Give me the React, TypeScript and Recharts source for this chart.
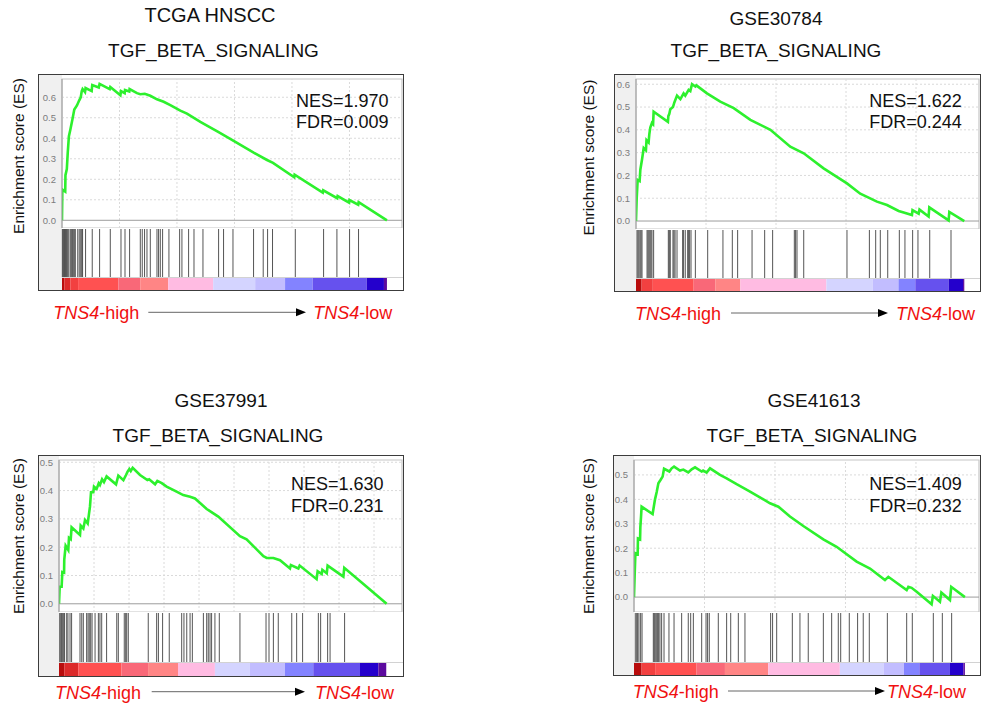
import React from 'react';
import { ComposedChart, Line, XAxis, YAxis, ReferenceLine, ReferenceArea } from 'recharts';

// ranks are in thousands of genes along the ranked list
const tcgaEs: [number, number][] = [
  [0, 0], [0.03, 0.15], [0.28, 0.14], [0.3, 0.22], [0.42, 0.25], [0.5, 0.33], [0.6, 0.41], [0.72, 0.44],
  [0.9, 0.49], [1.07, 0.54], [1.3, 0.56], [1.5, 0.585], [1.63, 0.6], [1.72, 0.63], [1.79, 0.64], [2.0, 0.625],
  [2.05, 0.645], [2.58, 0.63], [2.63, 0.66], [3.2, 0.648], [3.27, 0.665], [4.15, 0.64], [4.2, 0.65], [5.08, 0.61],
  [5.13, 0.63], [5.45, 0.62], [5.48, 0.635], [5.85, 0.628], [5.88, 0.64], [6.52, 0.62], [6.81, 0.615], [7.2, 0.617],
  [7.68, 0.607], [8.26, 0.59], [8.84, 0.578], [9.42, 0.562], [10.29, 0.535], [10.87, 0.52], [12.03, 0.48],
  [13.62, 0.43], [14.93, 0.387], [16.67, 0.33], [17.83, 0.294], [18.35, 0.28], [20.2, 0.21], [20.23, 0.222],
  [22.68, 0.135], [22.72, 0.146], [23.93, 0.108], [23.97, 0.118], [24.97, 0.086], [25.0, 0.099], [25.76, 0.076],
  [25.8, 0.089], [28.26, 0],
];
const tcgaHits = [
  0.03, 0.1, 0.16, 0.23, 0.29, 0.36, 0.42, 0.5, 0.59, 0.72, 0.81, 0.9, 0.98, 1.07, 1.16, 1.37, 1.5, 1.63, 1.72,
  1.79, 2.05, 2.63, 3.27, 4.2, 5.13, 5.48, 5.88, 6.81, 6.98, 7.18, 7.39, 7.68, 8.26, 8.4, 8.55, 8.75, 9.3, 10.23,
  10.43, 11.01, 11.48, 12.26, 13.62, 14.05, 14.87, 16.66, 17.5, 17.88, 18.31, 20.29, 22.75, 23.91, 25.01, 25.79,
];
// [from rank, to rank, heat level]
const tcgaBands: [number, number, number][] = [
  [0, 0.2, 0], [0.2, 0.72, 1], [0.72, 1.4, 2], [1.4, 4.9, 3], [4.9, 6.8, 4], [6.8, 9.24, 5], [9.24, 13.15, 6],
  [13.15, 16.8, 7], [16.8, 19.4, 8], [19.4, 21.8, 9], [21.8, 26.5, 10], [26.5, 28.0, 11], [28.0, 28.26, 12],
];

const gse30784Es: [number, number][] = [
  [0, 0], [0.05, 0.1], [0.12, 0.18], [0.26, 0.175], [0.31, 0.225], [0.43, 0.27], [0.55, 0.32], [0.71, 0.31],
  [0.75, 0.355], [0.9, 0.345], [0.95, 0.38], [1.02, 0.41], [1.14, 0.43], [1.22, 0.425], [1.26, 0.48], [2.28, 0.435],
  [2.31, 0.46], [2.38, 0.47], [2.45, 0.49], [2.64, 0.5], [2.74, 0.52], [2.93, 0.55], [3.17, 0.535], [3.4, 0.56],
  [3.52, 0.55], [3.76, 0.575], [3.88, 0.57], [4.0, 0.6], [4.24, 0.59], [4.31, 0.595], [5.07, 0.56], [6.02, 0.524],
  [6.98, 0.495], [8.17, 0.444], [9.6, 0.4], [11.02, 0.326], [11.98, 0.297], [13.4, 0.231], [15.07, 0.165],
  [16.02, 0.12], [17.21, 0.085], [17.93, 0.07], [18.76, 0.044], [19.12, 0.037], [19.71, 0.026], [19.75, 0.048],
  [20.19, 0.032], [20.25, 0.05], [20.9, 0.02], [20.95, 0.06], [22.33, 0.003], [22.38, 0.04], [23.45, 0],
];
const gse30784Hits = [
  0.07, 0.14, 0.21, 0.29, 0.36, 0.43, 0.79, 0.86, 0.93, 1.0, 1.07, 1.14, 1.26, 2.31, 2.38, 2.45, 2.64, 2.71, 2.79,
  2.93, 3.33, 3.4, 3.52, 3.69, 3.76, 3.83, 3.93, 4.24, 5.12, 6.21, 6.88, 7.26, 8.29, 9.19, 9.76, 11.31, 11.4, 11.5,
  11.98, 15.07, 16.67, 17.12, 17.45, 17.98, 18.81, 19.21, 19.76, 20.14, 20.98, 22.5,
];
const gse30784Bands: [number, number, number][] = [
  [0, 0.4, 0], [0.4, 1.2, 2], [1.2, 4.12, 3], [4.12, 5.66, 4], [5.66, 7.45, 5], [7.45, 13.6, 6], [13.6, 16.9, 7],
  [16.9, 18.75, 8], [18.75, 19.95, 9], [19.95, 22.33, 10], [22.33, 23.36, 11], [23.36, 23.45, 12],
];

const gse37991Es: [number, number][] = [
  [0, 0], [0.04, 0.06], [0.15, 0.06], [0.19, 0.112], [0.29, 0.11], [0.3, 0.155], [0.38, 0.205], [0.53, 0.19],
  [0.57, 0.233], [0.67, 0.228], [0.72, 0.27], [1.2, 0.243], [1.24, 0.276], [1.39, 0.266], [1.49, 0.296],
  [1.64, 0.284], [1.71, 0.316], [1.77, 0.343], [1.83, 0.394], [1.96, 0.394], [2.0, 0.414], [2.15, 0.406],
  [2.27, 0.426], [2.34, 0.42], [2.46, 0.44], [2.57, 0.43], [2.72, 0.45], [3.26, 0.422], [3.39, 0.453], [3.68, 0.437],
  [3.83, 0.455], [3.92, 0.467], [4.02, 0.476], [4.1, 0.469], [4.21, 0.48], [4.63, 0.455], [5.05, 0.437], [5.15, 0.44],
  [5.49, 0.422], [5.62, 0.434], [5.87, 0.426], [6.15, 0.414], [6.72, 0.396], [7.1, 0.384], [7.49, 0.378],
  [7.77, 0.372], [8.44, 0.335], [9.1, 0.308], [10.34, 0.239], [10.72, 0.228], [11.68, 0.168], [11.87, 0.162],
  [12.25, 0.162], [12.63, 0.154], [13.2, 0.125], [13.25, 0.137], [13.68, 0.125], [13.75, 0.135], [14.72, 0.087],
  [14.78, 0.115], [15.01, 0.105], [15.05, 0.12], [15.3, 0.108], [15.35, 0.135], [16.25, 0.096], [16.3, 0.127],
  [17.58, 0.06], [18.72, 0],
];
const gse37991Hits = [
  0.04, 0.1, 0.15, 0.21, 0.27, 0.32, 0.44, 0.51, 0.63, 0.72, 1.2, 1.3, 1.39, 1.58, 1.66, 1.73, 1.81, 1.89, 2.06,
  2.25, 2.34, 2.44, 2.72, 3.3, 3.39, 3.73, 3.81, 3.87, 3.96, 5.1, 5.58, 5.68, 5.92, 6.3, 7.01, 7.14, 7.3, 7.49, 7.62,
  8.25, 8.44, 8.53, 8.63, 8.72, 8.91, 9.16, 10.34, 11.83, 12.0, 12.25, 12.53, 13.3, 13.58, 13.92, 14.82, 14.95,
  15.35, 15.49, 16.32,
];
const gse37991Bands: [number, number, number][] = [
  [0, 0.3, 0], [0.3, 1.1, 1], [1.1, 3.57, 3], [3.57, 5.09, 4], [5.09, 6.8, 5], [6.8, 8.91, 6], [8.91, 10.91, 7],
  [10.91, 12.91, 8], [12.91, 14.53, 9], [14.53, 17.2, 10], [17.2, 18.25, 11], [18.25, 18.7, 12],
];

const gse41613Es: [number, number][] = [
  [0, 0], [0.05, 0.097], [0.1, 0.18], [0.26, 0.176], [0.28, 0.24], [0.43, 0.236], [0.45, 0.286], [0.5, 0.33],
  [0.54, 0.37], [1.32, 0.34], [1.49, 0.4], [1.61, 0.43], [1.73, 0.466], [1.89, 0.48], [2.03, 0.493], [2.13, 0.525],
  [2.51, 0.514], [2.67, 0.527], [2.84, 0.534], [3.26, 0.518], [3.5, 0.522], [3.85, 0.51], [4.09, 0.523],
  [4.33, 0.531], [4.8, 0.514], [4.9, 0.518], [5.15, 0.51], [5.39, 0.527], [6.1, 0.5], [6.57, 0.486], [7.28, 0.462],
  [8.23, 0.432], [9.65, 0.384], [10.24, 0.37], [11.06, 0.33], [12.01, 0.291], [13.43, 0.236], [14.37, 0.206],
  [15.79, 0.145], [16.74, 0.117], [17.8, 0.07], [18.04, 0.083], [19.34, 0.029], [19.46, 0.042], [19.69, 0.038],
  [20.05, 0.022], [21.11, -0.029], [21.2, 0.005], [21.7, -0.019], [21.8, 0.019], [22.41, -0.012], [22.5, 0.042],
  [23.47, 0],
];
const gse41613Hits = [
  0.09, 0.19, 0.26, 0.35, 0.47, 0.57, 1.37, 1.44, 1.51, 1.61, 1.68, 1.75, 1.84, 1.96, 2.13, 2.48, 2.84, 3.38, 3.85,
  4.02, 4.21, 4.8, 5.11, 5.22, 5.34, 5.98, 6.57, 6.86, 7.4, 7.87, 9.69, 9.83, 10.12, 11.23, 11.77, 12.36, 13.43,
  14.02, 14.49, 14.66, 15.27, 15.86, 16.26, 16.69, 17.97, 19.34, 19.74, 21.23, 21.87, 22.53,
];
const gse41613Bands: [number, number, number][] = [
  [0, 0.54, 0], [0.54, 1.5, 2], [1.5, 4.44, 3], [4.44, 6.45, 4], [6.45, 9.52, 5], [9.52, 14.6, 6], [14.6, 17.7, 7],
  [17.7, 19.15, 8], [19.15, 20.24, 9], [20.24, 22.41, 10], [22.41, 23.36, 11], [23.36, 23.47, 12],
];

const ticksTo06 = [0, 0.1, 0.2, 0.3, 0.4, 0.5, 0.6];
const ticksTo05 = [0, 0.1, 0.2, 0.3, 0.4, 0.5];

const panels = [
  { dataset: 'TCGA HNSCC', geneSet: 'TGF_BETA_SIGNALING', nes: '1.970', fdr: '0.009', es: tcgaEs, hits: tcgaHits, bands: tcgaBands, yTicks: ticksTo06, xGrid: [5, 10, 15, 20, 25] },
  { dataset: 'GSE30784', geneSet: 'TGF_BETA_SIGNALING', nes: '1.622', fdr: '0.244', es: gse30784Es, hits: gse30784Hits, bands: gse30784Bands, yTicks: ticksTo06, xGrid: [5, 10, 15, 20] },
  { dataset: 'GSE37991', geneSet: 'TGF_BETA_SIGNALING', nes: '1.630', fdr: '0.231', es: gse37991Es, hits: gse37991Hits, bands: gse37991Bands, yTicks: ticksTo05, xGrid: [2, 4, 6, 8, 10, 12, 14, 16, 18] },
  { dataset: 'GSE41613', geneSet: 'TGF_BETA_SIGNALING', nes: '1.409', fdr: '0.232', es: gse41613Es, hits: gse41613Hits, bands: gse41613Bands, yTicks: ticksTo05, xGrid: [5, 10, 15, 20] },
];

// dark red -> pink -> lavender -> dark blue
const heatColors = [
  '#b80c0c', '#dc2a2a', '#f24040', '#ff5151', '#f96878', '#ff8585', '#ffbbe2',
  '#d4d4ff', '#c2bdff', '#8383ff', '#6651ee', '#2400cc', '#5c0a9e',
];

const layouts = [
  { left: 38, top: 74, w: 364, band: 23, esH: 153, hitH: 49, barH: 13, xMax: 29.57, yDomain: [-0.0376, 0.689],
    t1: [210, 21.5], t2: [213.5, 56.7], yl: [18.5, 156], nes: [296, 106.7], hi: 53.3, ax: [148.3, 306], lo: 313.3, ay: 312.3 },
  { left: 614, top: 74, w: 365, band: 21, esH: 154, hitH: 49, barH: 13, xMax: 24.5, yDomain: [-0.035, 0.623],
    t1: [776, 25], t2: [776, 57], yl: [589, 157.5], nes: [869.3, 106.7], hi: 635, ax: [731, 888], lo: 896, ay: 313 },
  { left: 38, top: 455, w: 364, band: 20, esH: 156, hitH: 50, barH: 14, xMax: 19.6, yDomain: [-0.029, 0.508],
    t1: [221, 407], t2: [218, 442], yl: [18.5, 536], nes: [291, 490], hi: 55, ax: [151.7, 305], lo: 315, ay: 691.7 },
  { left: 613, top: 455, w: 366, band: 20, esH: 156, hitH: 50, barH: 13, xMax: 24.47, yDomain: [-0.061, 0.561],
    t1: [814, 407], t2: [812, 442], yl: [588.5, 536], nes: [869.3, 490], hi: 632.7, ax: [728, 885], lo: 887, ay: 691 },
];

const FONT = '"Liberation Sans", Arial, Helvetica, sans-serif';

function GseaPanel({ p, b }: { p: (typeof panels)[number]; b: (typeof layouts)[number] }) {
  const esData = p.es.map(([rank, es]) => ({ rank, es }));
  const hitData = p.hits.map((rank) => ({ rank, v: 0.5 }));
  const [yMin, yMax] = b.yDomain;
  return (
    <div
      style={{
        position: 'absolute', left: b.left, top: b.top, width: b.w, border: '1px solid #3c3c3c',
        background: `linear-gradient(to right, #f0f0f0 ${b.band}px, #ffffff ${b.band}px)`,
      }}
    >
      <ComposedChart width={b.w} height={b.esH} data={esData} margin={{ top: 4, right: 1, bottom: 0, left: 0 }}>
        <XAxis type="number" dataKey="rank" domain={[0, b.xMax]} allowDataOverflow hide />
        <YAxis
          type="number" domain={[yMin, yMax]} allowDataOverflow ticks={p.yTicks} width={b.band}
          axisLine={{ stroke: '#a0a0a0' }} tickLine={false} tickSize={3} tickMargin={3} interval={0}
          tick={{ fill: '#7c7c7c', fontSize: 9.5, fontFamily: FONT }} tickFormatter={(v: number) => v.toFixed(1)}
        />
        {p.xGrid.map((x) => (
          <ReferenceLine key={`gx${x}`} x={x} stroke="#dadada" strokeDasharray="2 2" />
        ))}
        {p.yTicks.filter((t) => t > 0).map((t) => (
          <ReferenceLine key={`gy${t}`} y={t} stroke="#dadada" strokeDasharray="2 2" />
        ))}
        <ReferenceArea x1={0} x2={b.xMax} y1={yMin} y2={yMax} fill="none" stroke="#c6c6c6" strokeWidth={1.2} />
        <ReferenceLine y={0} stroke="#9c9c9c" />
        <Line dataKey="es" type="linear" stroke="#2df02d" strokeWidth={2.6} dot={false} isAnimationActive={false} />
      </ComposedChart>
      <ComposedChart width={b.w} height={b.hitH} data={hitData} margin={{ top: 1, right: 1, bottom: 0, left: b.band }}>
        <XAxis type="number" dataKey="rank" domain={[0, b.xMax]} allowDataOverflow hide />
        <YAxis type="number" domain={[0, 1]} hide />
        {p.hits.map((h, i) => (
          <ReferenceLine key={`h${i}`} x={h} stroke="#2a2a2a" strokeOpacity={0.8} strokeWidth={1} />
        ))}
        <Line dataKey="v" stroke="none" strokeOpacity={0} dot={false} isAnimationActive={false} />
      </ComposedChart>
      <div style={{ marginLeft: b.band, borderTop: '1px solid #d2d2d2', height: b.barH - 1 }}>
        <ComposedChart width={b.w - b.band} height={b.barH - 1} data={hitData} margin={{ top: 0, right: 1, bottom: 0, left: 0 }}>
          <XAxis type="number" dataKey="rank" domain={[0, b.xMax]} allowDataOverflow hide />
          <YAxis type="number" domain={[0, 1]} hide />
          {p.bands.map(([from, to, level], i) => (
            <ReferenceArea key={`b${i}`} x1={from} x2={to} y1={0} y2={1} fill={heatColors[level]} fillOpacity={1} stroke="none" />
          ))}
          <Line dataKey="v" stroke="none" strokeOpacity={0} dot={false} isAnimationActive={false} />
        </ComposedChart>
      </div>
    </div>
  );
}

export default function App() {
  return (
    <div style={{ position: 'absolute', left: 0, top: 0, width: 982, height: 706, background: '#fff', fontFamily: FONT }}>
      {panels.map((p, i) => (
        <GseaPanel key={p.dataset} p={p} b={layouts[i]} />
      ))}
      <svg width={982} height={706} style={{ position: 'absolute', left: 0, top: 0, pointerEvents: 'none' }} fontFamily={FONT}>
        {panels.map((p, i) => {
          const b = layouts[i];
          return (
            <g key={p.dataset}>
              <text x={b.t1[0]} y={b.t1[1]} textAnchor="middle" fontSize={i === 0 ? 20 : 19} fill="#111">{p.dataset}</text>
              <text x={b.t2[0]} y={b.t2[1]} textAnchor="middle" fontSize={19} fill="#111">{p.geneSet}</text>
              <text transform={`translate(${b.yl[0]},${b.yl[1]}) rotate(-90)`} textAnchor="middle" dy="0.35em" fontSize={15.5} fill="#111">
                Enrichment score (ES)
              </text>
              <text x={b.nes[0]} y={b.nes[1]} fontSize={18} fill="#111">NES={p.nes}</text>
              <text x={b.nes[0]} y={b.nes[1] + 21.6} fontSize={18} fill="#111">FDR={p.fdr}</text>
              <text x={b.hi} y={b.ay + 7} fontSize={18} fill="#f01010">
                <tspan fontStyle="italic">TNS4</tspan>-high
              </text>
              <line x1={b.ax[0]} y1={b.ay} x2={b.ax[1] - 9} y2={b.ay} stroke="#666" strokeWidth={1} />
              <polygon points={`${b.ax[1]},${b.ay} ${b.ax[1] - 10},${b.ay - 4} ${b.ax[1] - 10},${b.ay + 4}`} fill="#000" />
              <text x={b.lo} y={b.ay + 7} fontSize={18} fill="#f01010">
                <tspan fontStyle="italic">TNS4</tspan>-low
              </text>
            </g>
          );
        })}
      </svg>
    </div>
  );
}
